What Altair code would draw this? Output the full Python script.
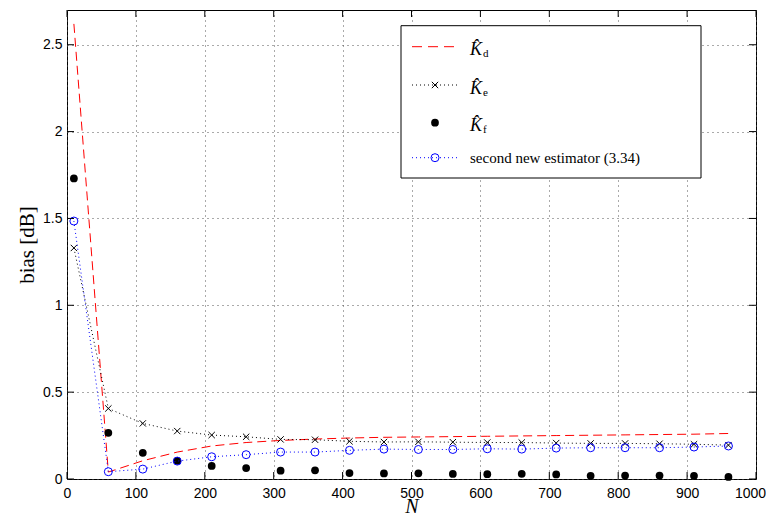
import altair as alt
import pandas as pd

# ---- data ----
N = [10, 60, 110, 160, 210, 260, 310, 360, 410, 460,
     510, 560, 610, 660, 710, 760, 810, 860, 910, 960]
k_d = [2.62, 0.04, 0.105, 0.155, 0.19, 0.21, 0.222, 0.23, 0.236, 0.24,
       0.242, 0.244, 0.246, 0.248, 0.25, 0.252, 0.254, 0.256, 0.258, 0.262]
k_e = [1.33, 0.406, 0.32, 0.276, 0.253, 0.243, 0.228, 0.226, 0.217, 0.213,
       0.214, 0.212, 0.21, 0.21, 0.207, 0.205, 0.205, 0.203, 0.2, 0.195]
k_f = [1.73, 0.266, 0.151, 0.105, 0.075, 0.063, 0.048, 0.05, 0.034, 0.032,
       0.033, 0.029, 0.028, 0.03, 0.026, 0.018, 0.02, 0.02, 0.018, 0.012]
k_334 = [1.485, 0.042, 0.057, 0.103, 0.128, 0.14, 0.155, 0.155, 0.165, 0.172,
         0.17, 0.17, 0.174, 0.172, 0.178, 0.18, 0.18, 0.18, 0.184, 0.19]
x_ticks = [0, 100, 200, 300, 400, 500, 600, 700, 800, 900, 1000]
y_ticks = [0, 0.5, 1, 1.5, 2, 2.5]
legend_subs = ["d", "e", "f"]
legend_last = "second new estimator (3.34)"

W, H = 689, 469
SERIF = "Liberation Serif"

df = pd.DataFrame({"N": N, "kd": k_d, "ke": k_e, "kf": k_f, "k334": k_334})
xt = pd.DataFrame({"t": x_ticks})
yt = pd.DataFrame({"t": y_ticks})
one = pd.DataFrame({"a": [0]})

xsc = alt.Scale(domain=[0, 1000], nice=False, zero=False)
ysc = alt.Scale(domain=[0, 2.7], nice=False, zero=False)
xaxis = alt.Axis(values=x_ticks, format="d", title="N", grid=True,
                 labelFlush=False, labelOverlap=False,
                 labelOffset=alt.ExprRef("datum.value == 1000 ? -6 : 0"),
                 titleFontStyle="italic", titleFont=SERIF, titleFontSize=20,
                 titleFontWeight="normal", labelPadding=7, titleY=33,
                 titleBaseline="alphabetic")
yaxis = alt.Axis(values=y_ticks, format="~g", title="bias [dB]", grid=True,
                 labelFlush=False, labelOverlap=False,
                 titleFont=SERIF, titleFontSize=21, titleFontWeight="normal",
                 labelPadding=5, titleX=-34, titleBaseline="alphabetic")


def X(f):
    return alt.X(f + ":Q", scale=xsc, axis=xaxis)


def Y(f):
    return alt.Y(f + ":Q", scale=ysc, axis=yaxis)


base = alt.Chart(df)
cross = "M-1,-1L1,1M-1,1L1,-1"

line_d = base.mark_line(color="#ff0000", strokeDash=[9, 5], strokeWidth=1).encode(x=X("N"), y=Y("kd"))
line_e = base.mark_line(color="black", strokeDash=[1, 3], strokeWidth=1).encode(x=X("N"), y=Y("ke"))
pts_e = base.mark_point(shape=cross, size=40, color="black", strokeWidth=1, filled=False, opacity=1).encode(x=X("N"), y=Y("ke"))
pts_f = base.mark_point(shape="circle", size=60, color="black", filled=True, opacity=1).encode(x=X("N"), y=Y("kf"))
line_n = base.mark_line(color="#0000ff", strokeDash=[1, 3], strokeWidth=1).encode(x=X("N"), y=Y("k334"))
pts_n = base.mark_point(shape="circle", size=64, color="#0000ff", strokeWidth=1, filled=False, opacity=1).encode(x=X("N"), y=Y("k334"))

# inward ticks on all four sides
tk = 7
xb = alt.Chart(xt).mark_rule(color="black", strokeWidth=1).encode(x=X("t"), y=alt.value(H), y2=alt.value(H - tk))
xtop = alt.Chart(xt).mark_rule(color="black", strokeWidth=1).encode(x=X("t"), y=alt.value(0), y2=alt.value(tk))
yl = alt.Chart(yt).mark_rule(color="black", strokeWidth=1).encode(y=Y("t"), x=alt.value(0), x2=alt.value(tk))
yr = alt.Chart(yt).mark_rule(color="black", strokeWidth=1).encode(y=Y("t"), x=alt.value(W), x2=alt.value(W - tk))

# legend
lc = alt.Chart(one)
box = lc.mark_rect(fill="white", stroke="black", strokeWidth=1).encode(
    x=alt.value(334), x2=alt.value(634), y=alt.value(15.7), y2=alt.value(168))
rows = [36.7, 75, 112.7, 147.7]
lx1, lx2, lxm, tx = 345, 391, 368, 403
leg = [box]
leg.append(lc.mark_rule(color="#ff0000", strokeDash=[10, 6], strokeWidth=1).encode(
    x=alt.value(lx1), x2=alt.value(lx2), y=alt.value(rows[0])))
leg.append(lc.mark_rule(color="black", strokeDash=[1, 3], strokeWidth=1).encode(
    x=alt.value(lx1), x2=alt.value(lx2), y=alt.value(rows[1])))
leg.append(lc.mark_point(shape=cross, size=40, color="black", strokeWidth=1, filled=False, opacity=1).encode(
    x=alt.value(lxm), y=alt.value(rows[1])))
leg.append(lc.mark_point(shape="circle", size=60, color="black", filled=True, opacity=1).encode(
    x=alt.value(lxm), y=alt.value(rows[2])))
leg.append(lc.mark_rule(color="#0000ff", strokeDash=[1, 3], strokeWidth=1).encode(
    x=alt.value(lx1), x2=alt.value(lx2), y=alt.value(rows[3])))
leg.append(lc.mark_point(shape="circle", size=64, color="#0000ff", strokeWidth=1, filled=False, opacity=1).encode(
    x=alt.value(lxm), y=alt.value(rows[3])))
for i, s in enumerate(legend_subs):
    leg.append(lc.mark_text(font=SERIF, fontSize=18, fontStyle="italic", align="left",
                            baseline="alphabetic", color="black").encode(
        x=alt.value(tx), y=alt.value(rows[i] + 8.5), text=alt.value("K\u0302")))
    leg.append(lc.mark_text(font=SERIF, fontSize=11, align="left",
                            baseline="alphabetic", color="black").encode(
        x=alt.value(tx + 13), y=alt.value(rows[i] + 10.5), text=alt.value(s)))
leg.append(lc.mark_text(font=SERIF, fontSize=15, align="left", baseline="alphabetic",
                        color="black").encode(
    x=alt.value(tx), y=alt.value(rows[3] + 5), text=alt.value(legend_last)))

chart = alt.layer(
    line_d, line_e, pts_e, pts_f, line_n, pts_n, xb, xtop, yl, yr, *leg
).properties(
    width=W, height=H,
    autosize=alt.AutoSizeParams(type="none"),
    padding={"left": 59, "top": 2, "right": 10, "bottom": 37},
).configure_view(
    stroke="black", strokeWidth=1
).configure_axis(
    domain=False, ticks=False, labelFont="Liberation Sans", labelFontSize=14,
    labelColor="black", gridColor="#555555", gridDash=[1, 4], gridWidth=1,
    titleColor="black"
)

chart.save("out.html", embed_options={"renderer": "svg", "actions": False})
